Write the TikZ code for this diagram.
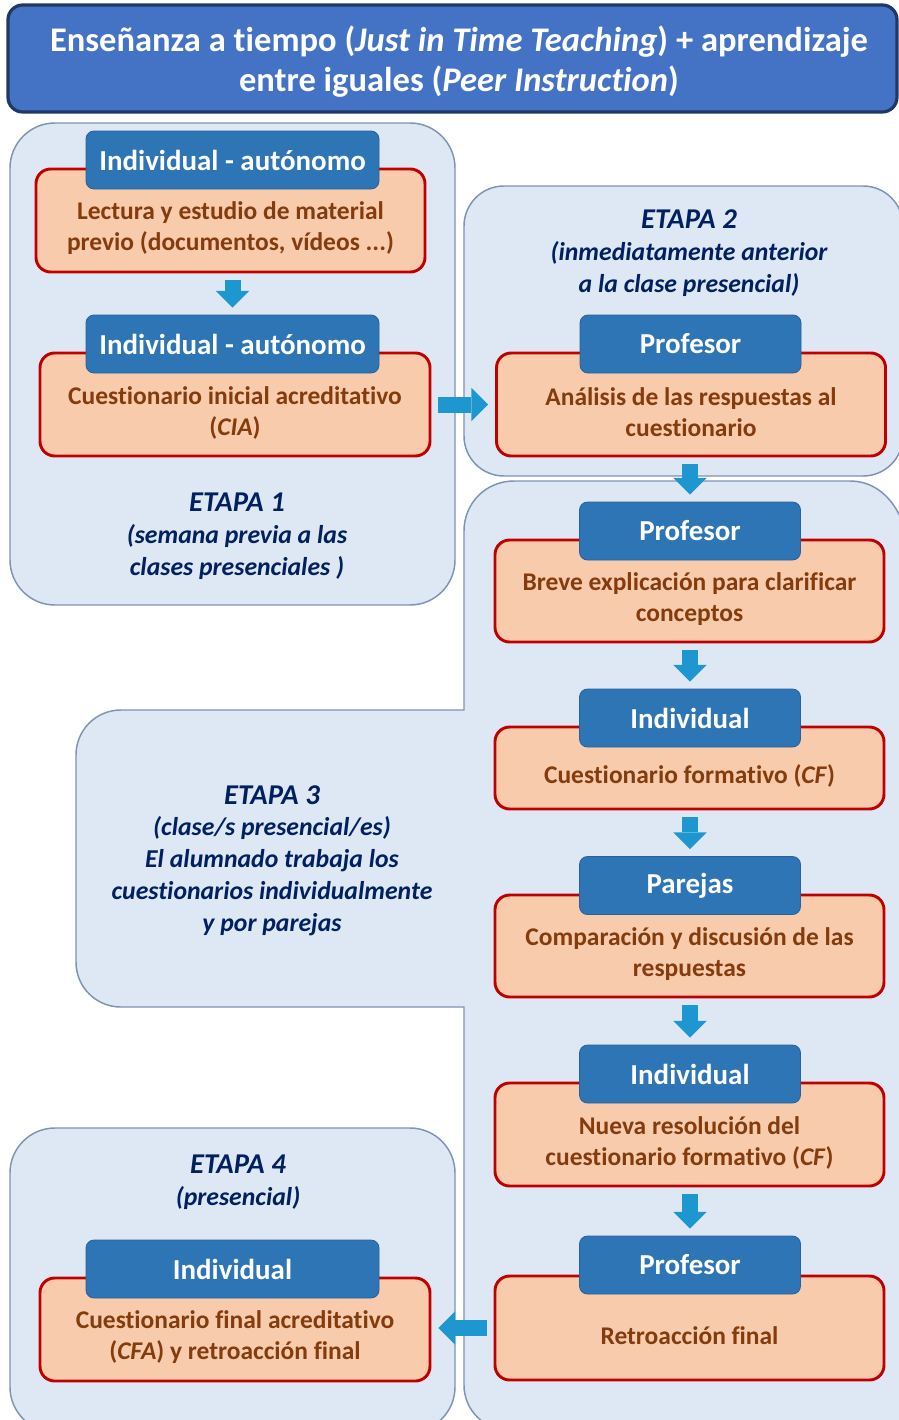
\documentclass[tikz,border=0pt]{standalone}
\usepackage{fontspec}
\setmainfont{Carlito}[Ligatures=NoCommon]
\usetikzlibrary{arrows.meta,calc}
\definecolor{stagefill}{HTML}{DEE8F5}
\definecolor{stageline}{HTML}{7F93B5}
\definecolor{titlefill}{HTML}{4472C4}
\definecolor{titleline}{HTML}{1F3864}
\definecolor{headfill}{HTML}{2E75B6}
\definecolor{headline}{HTML}{2A609A}
\definecolor{boxfill}{HTML}{F8CBAD}
\definecolor{boxline}{HTML}{C00000}
\definecolor{boxtext}{HTML}{843C0C}
\definecolor{stagetext}{HTML}{002060}
\definecolor{arrowcol}{HTML}{1E96CF}
\newcommand\stagetitlefont{\bfseries\itshape\fontsize{21.5}{25}\selectfont}
\begin{document}
\begin{tikzpicture}[x=0.75pt,y=-0.75pt,
  stage/.style={fill=stagefill,draw=stageline,line width=1.1pt},
  titlebox/.style={fill=titlefill,draw=titleline,line width=2.4pt,rounded corners=11pt,inner sep=0pt},
  titletxt/.style={text=white,align=center,font=\bfseries\fontsize{25.9}{30}\selectfont,inner sep=0pt},
  headbox/.style={fill=headfill,draw=headline,line width=0.6pt,rounded corners=6pt,
    text=white,font=\bfseries\fontsize{21.7}{25}\selectfont,inner sep=0pt,
    minimum height=43.5pt},
  wide/.style={minimum width=219.75pt},
  narrow/.style={minimum width=165.75pt},
  obox/.style={fill=boxfill,draw=boxline,line width=2.2pt,rounded corners=11pt,
    minimum width=291.75pt,inner sep=0pt},
  otext/.style={text=boxtext,align=center,font=\bfseries\fontsize{19.1}{23.25}\selectfont,inner sep=0pt},
  stext/.style={text=stagetext,align=center,font=\bfseries\itshape\fontsize{19.3}{23.8}\selectfont,inner sep=0pt},
  blockarrow/.style={draw=arrowcol,line width=12pt,
    -{Triangle[length=12.5pt,width=25pt,line width=0pt]},
    shorten <=5.25pt,shorten >=5.25pt}
]
\useasboundingbox (0,0) rectangle (899,1420);
\clip (0,0) rectangle (899,1420);
\fill[white] (0,0) rectangle (899,1420);

% stage containers
\draw[stage,rounded corners=33.75pt] (10,123) rectangle (455,605);
\draw[stage,rounded corners=30pt] (464,186) rectangle (903,476);
\draw[stage] (850,481) .. controls (885,481) and (910,515) .. (912,570)
  -- (912,1440) -- (509,1440) -- (509,1430)
  .. controls (484,1430) and (464,1410) .. (464,1385)
  -- (464,1007) -- (121,1007) .. controls (96,1007) and (76,987) .. (76,962)
  -- (76,755) .. controls (76,730) and (96,710) .. (121,710)
  -- (464,710) -- (464,531) .. controls (464,503) and (486,481) .. (514,481) -- cycle;
\draw[stage,rounded corners=33.75pt] (10,1128) rectangle (455,1432);

% title
\node[titlebox,minimum width=666.75pt,minimum height=80.25pt] (title) at (452.5,58.5) {};
\node[titletxt] (titletext) at (459,61.5)
  {Enseñanza a tiempo (\textit{Just in Time Teaching}) + aprendizaje\\
   entre iguales (\textit{Peer Instruction})};

% stage texts
\node[stext] (s1) at (237,536) {{\stagetitlefont ETAPA 1}\\(semana previa a las\\clases presenciales )};
\node[stext] (s2) at (689,253) {{\stagetitlefont ETAPA 2}\\(inmediatamente anterior\\a la clase presencial)};
\node[stext] (s3) at (272,860.5) {{\stagetitlefont ETAPA 3}\\(clase/s presencial/es)\\El alumnado trabaja los\\cuestionarios individualmente\\y por parejas};
\node[stext] (s4) at (238,1182.5) {{\stagetitlefont ETAPA 4}\\(presencial)};

% orange boxes
\node[obox,minimum height=77.25pt] (o1) at (230.5,220.5) {};
\node[obox,minimum height=77.25pt,minimum width=292.5pt] (o2) at (235,404.5) {};
\node[obox,minimum height=77.25pt] (o3) at (691,404.5) {};
\node[obox,minimum height=76.5pt] (o4) at (689.5,591) {};
\node[obox,minimum height=61.5pt] (o5) at (689.5,768) {};
\node[obox,minimum height=76.5pt] (o6) at (689.5,946) {};
\node[obox,minimum height=77.25pt] (o7) at (689.5,1134.5) {};
\node[obox,minimum height=78pt] (o8) at (689.5,1328) {};
\node[obox,minimum height=77.25pt,minimum width=292.5pt] (o9) at (235,1329.5) {};

\node[otext] (t1) at ($(o1.center)+(0,8)$) {Lectura y estudio de material\\previo (documentos, vídeos ...)};
\node[otext] (t2) at ($(o2.center)+(0,8)$) {Cuestionario inicial acreditativo\\(\textit{CIA})};
\node[otext] (t3) at ($(o3.center)+(0,8)$) {Análisis de las respuestas al\\cuestionario};
\node[otext] (t4) at ($(o4.center)+(0,8)$) {Breve explicación para clarificar\\conceptos};
\node[otext] (t5) at ($(o5.center)+(0,8)$) {Cuestionario formativo (\textit{CF})};
\node[otext] (t6) at ($(o6.center)+(0,8)$) {Comparación y discusión de las\\respuestas};
\node[otext] (t7) at ($(o7.center)+(0,8)$) {Nueva resolución del\\cuestionario formativo (\textit{CF})};
\node[otext] (t8) at ($(o8.center)+(0,8)$) {Retroacción final};
\node[otext] (t9) at ($(o9.center)+(0,8)$) {Cuestionario final acreditativo\\(\textit{CFA}) y retroacción final};

% headers
\node[headbox,wide] (h1) at (232.5,160) {Individual - autónomo};
\node[headbox,wide] (h2) at (232.5,344) {Individual - autónomo};
\node[headbox,narrow] (h3) at (690.5,344) {Profesor};
\node[headbox,narrow] (h4) at (690,531) {Profesor};
\node[headbox,narrow] (h5) at (690,718) {Individual};
\node[headbox,narrow] (h6) at (690,885.5) {Parejas};
\node[headbox,narrow] (h7) at (690,1074) {Individual};
\node[headbox,narrow] (h8) at (690,1265) {Profesor};
\node[headbox,wide] (h9) at (232.5,1269) {Individual};

% arrows
\draw[blockarrow] (o1.south -| h2.north) -- (h2.north);
\draw[blockarrow] (o2.east) -- (o3.west);
\draw[blockarrow] (o3.south -| h4.north) -- (h4.north);
\draw[blockarrow] (o4.south -| h5.north) -- (h5.north);
\draw[blockarrow] (o5.south -| h6.north) -- (h6.north);
\draw[blockarrow] (o6.south -| h7.north) -- (h7.north);
\draw[blockarrow] (o7.south -| h8.north) -- (h8.north);
\draw[blockarrow] (o8.west) -- (o8.west -| o9.east);
\end{tikzpicture}
\end{document}
